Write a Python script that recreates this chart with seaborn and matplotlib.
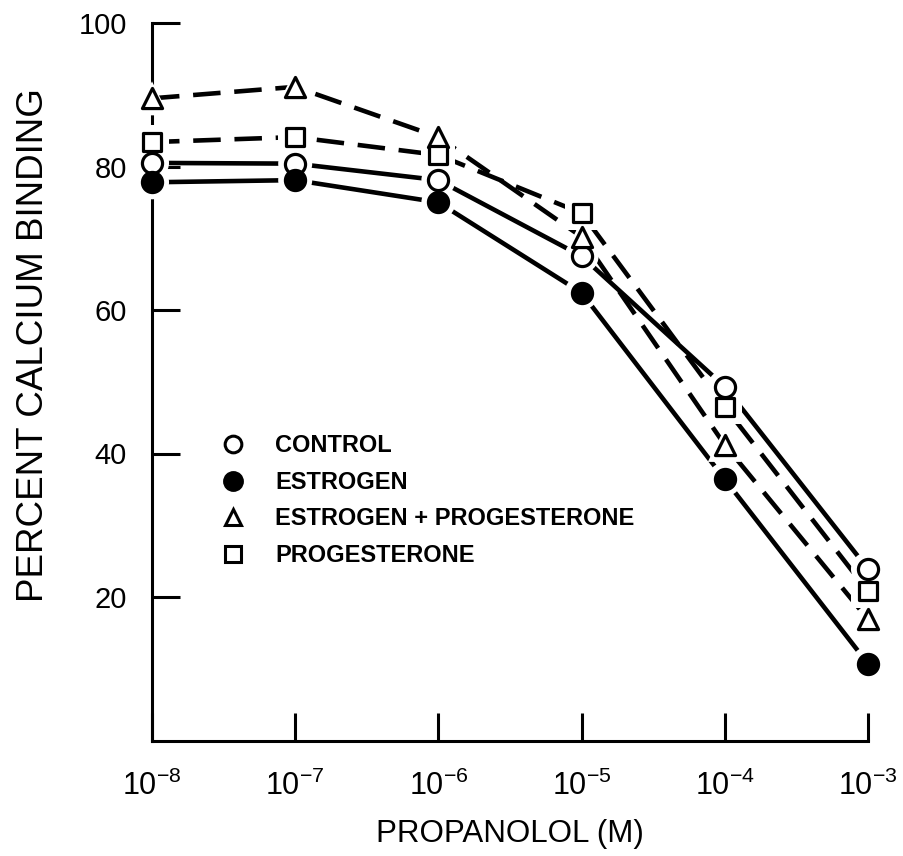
import matplotlib
matplotlib.use("Agg")
import matplotlib.pyplot as plt
from matplotlib.lines import Line2D
import seaborn as sns
import numpy as np

# ---- data ----
concentration = [1e-8, 1e-7, 1e-6, 1e-5, 1e-4, 1e-3]
tick_labels = [r"$10^{-8}$", r"$10^{-7}$", r"$10^{-6}$", r"$10^{-5}$", r"$10^{-4}$", r"$10^{-3}$"]
control = [80.5, 80.4, 78.1, 67.5, 49.3, 23.9]
estrogen = [77.8, 78.1, 75.0, 62.4, 36.4, 10.7]
estrogen_progesterone = [89.5, 91.1, 84.1, 70.2, 41.2, 16.9]
progesterone = [83.4, 84.1, 81.6, 73.5, 46.5, 20.8]
series_names = ["CONTROL", "ESTROGEN", "ESTROGEN + PROGESTERONE", "PROGESTERONE"]
y_ticks = [20, 40, 60, 80, 100]

sns.set_theme(style="white")
plt.rcParams["font.family"] = ["Liberation Sans", "DejaVu Sans"]
plt.rcParams["mathtext.default"] = "regular"
plt.rcParams["text.color"] = "black"

fig = plt.figure(figsize=(9.04, 8.56), dpi=100)
ax = fig.add_axes([152 / 904, 1 - 740.5 / 856, (868 - 152) / 904, (740.5 - 23) / 856])
ax.set_xscale("log")

styles = [
    (control, "o", "white", "-"),
    (estrogen, "o", "black", "-"),
    (estrogen_progesterone, "^", "white", (0, (6, 3))),
    (progesterone, "s", "white", (0, (6, 3))),
]

LW = 3.3
for vals, mk, fc, ls in styles:
    sns.lineplot(x=concentration, y=vals, ax=ax, color="black", linewidth=LW,
                 linestyle=ls, zorder=2, clip_on=False)
for vals, mk, fc, ls in styles:
    sns.scatterplot(x=concentration, y=vals, ax=ax, marker=mk, s=600, color="white",
                    edgecolor="none", linewidth=0, zorder=3, clip_on=False)
for vals, mk, fc, ls in styles:
    ms = 210 if mk != "s" else 170
    sns.scatterplot(x=concentration, y=vals, ax=ax, marker=mk, s=ms, facecolor=fc,
                    edgecolor="black", linewidth=2.3, zorder=4, clip_on=False)

ax.set_xlim(1e-8, 1e-3)
ax.set_ylim(0, 100)
ax.set_xticks(concentration)
ax.set_xticklabels(tick_labels)
ax.xaxis.set_minor_locator(matplotlib.ticker.NullLocator())
ax.set_yticks(y_ticks)
ax.set_yticklabels([str(v) for v in y_ticks])

for side in ["top", "right"]:
    ax.spines[side].set_visible(False)
for side in ["left", "bottom"]:
    ax.spines[side].set_color("black")
    ax.spines[side].set_linewidth(2.2)

ax.tick_params(axis="both", which="major", direction="in", length=20, width=2.2,
               color="black", labelcolor="black", bottom=True, left=True)
ax.tick_params(axis="x", pad=22, labelsize=22)
ax.tick_params(axis="y", pad=18, labelsize=21)

ax.set_xlabel("PROPANOLOL (M)", fontsize=22.5, color="black")
ax.xaxis.set_label_coords(0.5, -0.109)
ax.set_ylabel("PERCENT CALCIUM BINDING", fontsize=26.5, color="black")
ax.yaxis.set_label_coords(-0.141, 0.551)

handles = [
    Line2D([], [], linestyle="none", marker="o", markersize=12, markerfacecolor="white",
           markeredgecolor="black", markeredgewidth=2.2),
    Line2D([], [], linestyle="none", marker="o", markersize=13, markerfacecolor="black",
           markeredgecolor="black", markeredgewidth=2),
    Line2D([], [], linestyle="none", marker="^", markersize=12, markerfacecolor="white",
           markeredgecolor="black", markeredgewidth=2.2),
    Line2D([], [], linestyle="none", marker="s", markersize=11, markerfacecolor="white",
           markeredgecolor="black", markeredgewidth=2.2),
]
leg = ax.legend(handles, series_names, loc="upper left", bbox_to_anchor=(0.078, 0.443),
                frameon=False, borderpad=0, handlelength=1.15, handletextpad=1.2,
                labelspacing=0.57, prop={"size": 17, "weight": "bold"})
for t in leg.get_texts():
    t.set_color("black")

fig.savefig("out.png", dpi=100, facecolor="white")
